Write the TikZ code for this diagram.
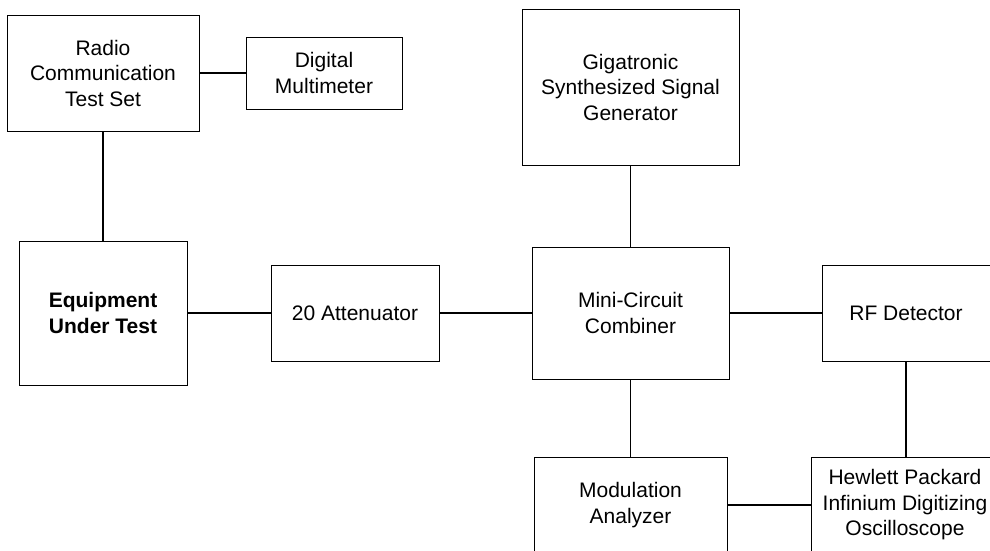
\documentclass[tikz,border=0pt]{standalone}
\usepackage{fontspec}
\setmainfont{Liberation Sans}
\begin{document}
\begin{tikzpicture}[x=1pt,y=-1pt,
  blk/.style={draw=black,line width=1pt,rectangle,align=center,inner sep=0pt,
    font=\fontsize{21}{25.5}\selectfont,text=black},
  link/.style={draw=black,line width=1.4pt}]
\useasboundingbox (0,0) rectangle (990,550);
\clip (0,0) rectangle (990,550);
\fill[white] (0,0) rectangle (990,550);
\node[blk,minimum width=192pt,minimum height=116pt] (radio) at (103,73) {Radio\\Communication\\Test Set};
\node[blk,minimum width=156pt,minimum height=72pt] (dmm) at (324,73) {Digital\\Multimeter};
\node[blk,minimum width=168pt,minimum height=144pt,font=\fontsize{21}{25.5}\selectfont\bfseries] (eut) at (103,313) {Equipment\\Under Test};
\node[blk,minimum width=168pt,minimum height=96pt] (att) at (355,313) {20 Attenuator};
\node[blk,minimum width=217pt,minimum height=156pt] (gig) at (630.5,87) {Gigatronic\\Synthesized Signal\\Generator};
\node[blk,minimum width=197pt,minimum height=132pt] (mini) at (630.5,313) {Mini-Circuit\\Combiner};
\node[blk,minimum width=168pt,minimum height=96pt] (rf) at (906,313) {RF Detector};
\node[blk,minimum width=188pt,minimum height=96pt] (hp) at (905,505) {Hewlett Packard\\Infinium Digitizing\\Oscilloscope};
\node[blk,minimum width=193pt,minimum height=96pt] (mod) at (630.5,505) {Modulation\\Analyzer};
\draw[link] (radio.east) -- (dmm.west);
\draw[link] (radio.south) -- (eut.north);
\draw[link] (eut.east) -- (att.west);
\draw[link] (att.east) -- (mini.west);
\draw[link] (gig.south) -- (mini.north);
\draw[link] (mini.east) -- (rf.west);
\draw[link] (mini.south) -- (mod.north);
\draw[link] (rf.south) -- (rf.south |- hp.north);
\draw[link] (mod.east) -- (hp.west);
\end{tikzpicture}
\end{document}
